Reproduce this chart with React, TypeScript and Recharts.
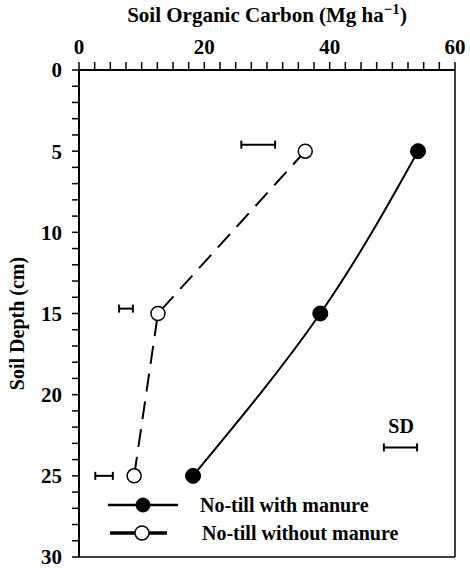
import React from 'react';
import {
  ComposedChart,
  Line,
  XAxis,
  YAxis,
  ErrorBar,
  ReferenceLine,
  ReferenceDot,
  Legend,
} from 'recharts';

const depths = [5, 15, 25];
const withManure = [54.1, 38.5, 18.2];
const withoutManure = [36.1, 12.6, 8.8];

// standard deviation bars (centre +/- half width), last one is the key "SD" bar
const sdDepths = [4.6, 14.7, 25, 23.25];
const sdCenters = [28.6, 7.5, 4.0, 51.3];
const sdHalf = [2.7, 1.1, 1.4, 2.65];
const sdLabel = { text: 'SD', x: 51.4, depth: 21.9 };

const xTicks = [0, 2.5, 5, 7.5, 10, 12.5, 15, 17.5, 20, 22.5, 25, 27.5, 30, 32.5, 35, 37.5, 40, 42.5, 45, 47.5, 50, 52.5, 55, 57.5, 60];
const yTicks = [0, 1, 2, 3, 4, 5, 6, 7, 8, 9, 10, 11, 12, 13, 14, 15, 16, 17, 18, 19, 20, 21, 22, 23, 24, 25, 26, 27, 28, 29, 30];

const seriesNames = ['No-till with manure', 'No-till without manure'];

const data = depths.map((d, i) => ({
  depth: d,
  withManure: withManure[i],
  withoutManure: withoutManure[i],
}));

const sdData = sdDepths.map((d, i) => ({ depth: d, center: sdCenters[i], half: sdHalf[i] }));

const FONT = '"Liberation Serif", "Times New Roman", serif';

const XTitle = (props: any) => {
  const { viewBox } = props;
  const cx = viewBox.x + viewBox.width / 2;
  return (
    <text x={cx} y={22} textAnchor="middle" fontFamily={FONT} fontWeight="bold" fontSize={21} fill="#000">
      Soil Organic Carbon (Mg ha
      <tspan fontSize={15} dy={-8}>−1</tspan>
      <tspan dy={8}>)</tspan>
    </text>
  );
};

const YTitle = (props: any) => {
  const { viewBox } = props;
  const cy = viewBox.y + viewBox.height / 2 + 10;
  return (
    <text
      x={24}
      y={cy}
      transform={`rotate(-90, 24, ${cy})`}
      textAnchor="middle"
      fontFamily={FONT}
      fontWeight="bold"
      fontSize={20}
      fill="#000"
    >
      Soil Depth (cm)
    </text>
  );
};

const renderLegend = () => (
  <svg width={300} height={60} style={{ overflow: 'visible' }}>
    <g fontFamily={FONT} fontWeight="bold" fontSize={20} fill="#000">
      <line x1={8} y1={15} x2={78} y2={15} stroke="#000" strokeWidth={2.5} />
      <circle cx={43} cy={15} r={7} fill="#000" stroke="#000" />
      <text x={100} y={15} dy="0.35em">{seriesNames[0]}</text>
      <line x1={10} y1={43} x2={67} y2={43} stroke="#000" strokeWidth={3.5} />
      <circle cx={42} cy={43} r={7} fill="#fff" stroke="#000" strokeWidth={1.5} />
      <text x={102} y={43} dy="0.35em">{seriesNames[1]}</text>
    </g>
  </svg>
);

export default function App() {
  return (
    <div style={{ position: 'absolute', left: 0, top: 0 }}>
      <ComposedChart
        width={470}
        height={568}
        data={data}
        layout="vertical"
        margin={{ top: 30, right: 15, bottom: 11, left: 19 }}
      >
        <XAxis
          type="number"
          orientation="top"
          domain={[0, 60]}
          ticks={xTicks}
          interval={0}
          height={40}
          tickSize={8}
          tickMargin={8}
          axisLine={{ stroke: '#000', strokeWidth: 2 }}
          tickLine={{ stroke: '#000', strokeWidth: 1.5 }}
          tick={{ fill: '#000', fontFamily: FONT, fontWeight: 'bold', fontSize: 21 }}
          tickFormatter={(v: number) => (v % 20 === 0 ? String(v) : '')}
          label={{ content: XTitle }}
        />
        <YAxis
          type="number"
          dataKey="depth"
          domain={[0, 30]}
          ticks={yTicks}
          interval={0}
          width={60}
          tickSize={7}
          tickMargin={10}
          axisLine={{ stroke: '#000', strokeWidth: 2 }}
          tickLine={{ stroke: '#000', strokeWidth: 1.5 }}
          tick={{ fill: '#000', fontFamily: FONT, fontWeight: 'bold', fontSize: 21 }}
          tickFormatter={(v: number) => (v % 5 === 0 ? String(v) : '')}
          label={{ content: YTitle }}
        />
        <ReferenceLine x={60} stroke="#000" strokeWidth={1.5} />
        <ReferenceLine y={30} stroke="#000" strokeWidth={1.5} />
        <Line
          data={sdData}
          dataKey="center"
          stroke="none"
          dot={false}
          legendType="none"
          isAnimationActive={false}
        >
          <ErrorBar dataKey="half" direction="x" width={4} stroke="#000" strokeWidth={2} />
        </Line>
        <Line
          dataKey="withManure"
          name={seriesNames[0]}
          type="natural"
          stroke="#000"
          strokeWidth={2}
          dot={{ r: 7.5, fill: '#000', stroke: '#000', strokeWidth: 1 }}
          isAnimationActive={false}
        />
        <Line
          dataKey="withoutManure"
          name={seriesNames[1]}
          type="linear"
          stroke="#000"
          strokeWidth={2}
          strokeDasharray="18 10"
          dot={{ r: 7, fill: '#fff', stroke: '#000', strokeWidth: 1.5, strokeDasharray: 'none' }}
          isAnimationActive={false}
        />
        <ReferenceDot
          x={sdLabel.x}
          y={sdLabel.depth}
          r={0}
          stroke="none"
          fill="none"
          label={{ value: sdLabel.text, position: 'center', fill: '#000', fontFamily: FONT, fontWeight: 'bold', fontSize: 20 }}
        />
        <Legend
          layout="vertical"
          align="center"
          verticalAlign="middle"
          content={renderLegend}
          wrapperStyle={{ left: 100, top: 490, width: 300, height: 60 }}
        />
      </ComposedChart>
    </div>
  );
}
